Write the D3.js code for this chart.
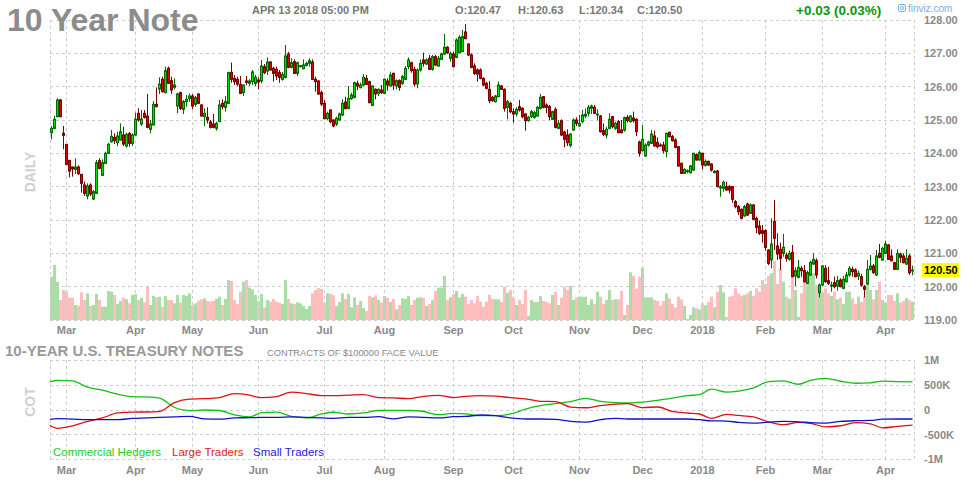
<!DOCTYPE html>
<html><head><meta charset="utf-8">
<script src="https://cdn.jsdelivr.net/npm/d3@7"></script>
<style>
body{margin:0;background:#fff}
svg{display:block}
text{font-family:"Liberation Sans",Arial,Helvetica,sans-serif}
</style>
</head><body>
<svg id="chart" width="964" height="480"></svg>
<script>
// ---------- categories ----------
const firstDay = "2017-02-22", lastDay = "2018-04-13";
const holidays = ["2017-04-14","2017-05-29","2017-07-04","2017-09-04","2017-11-23","2017-12-25","2018-01-01","2018-01-15","2018-02-19","2018-03-30"];
const monthTickDates = ["2017-03-01","2017-04-03","2017-05-01","2017-06-01","2017-07-03","2017-08-01","2017-09-01","2017-10-02","2017-11-01","2017-12-01","2018-01-02","2018-02-01","2018-03-01","2018-04-02"];
const monthTickLabels = ["Mar","Apr","May","Jun","Jul","Aug","Sep","Oct","Nov","Dec","2018","Feb","Mar","Apr"];
const priceTicks = [119,120,121,122,123,124,125,126,127,128];
const cotTicks = [1000000,500000,0,-500000,-1000000];
const cotTickLabels = ["1M","500K","0","-500K","-1M"];
const quoteTime = "APR 13 2018 05:00 PM";
const dayChange = 0.03, dayChangePct = 0.03;

// ---------- daily OHLC ----------
const open = [124.62,124.75,125.1,125.6,124.6,124.27,123.79,123.59,123.52,123.59,
123.37,123.05,122.72,123.05,122.63,122.8,123.78,123.34,123.7,124.0,
124.35,124.48,124.32,124.4,124.55,124.22,124.59,124.3,124.55,125.2,
124.88,125.2,125.12,124.72,124.85,125.47,125.93,126.22,125.82,126.55,
126.18,125.98,125.42,125.82,125.32,125.55,125.64,125.72,125.47,125.78,
125.45,125.1,125.08,124.94,124.88,124.75,124.95,125.5,125.38,125.5,
126.43,126.25,126.22,126.07,125.82,126.17,126.1,126.15,126.1,126.2,
126.17,126.6,126.47,126.74,126.55,126.52,126.42,126.22,126.28,126.98,
126.58,126.75,126.4,126.6,126.54,126.64,126.7,126.74,126.22,126.17,
125.82,125.5,125.04,125.3,125.0,124.88,125.0,125.15,125.54,125.35,
125.64,125.68,126.1,125.97,126.05,126.25,126.15,125.44,125.92,125.8,
125.9,125.8,126.17,126.02,126.4,126.02,126.18,126.1,126.22,126.6,
126.72,126.52,126.08,126.5,126.8,126.68,126.85,126.52,126.9,126.62,
126.82,126.98,127.18,126.85,126.98,126.88,127.02,127.05,127.64,127.28,
126.95,126.62,126.5,126.5,126.25,126.1,125.92,125.68,125.55,125.7,
126.02,125.92,125.38,125.5,125.25,125.18,125.4,125.35,125.18,124.98,
125.1,125.08,125.12,125.35,125.7,125.45,125.4,125.02,125.32,124.75,
124.98,124.64,124.55,124.24,124.7,125.0,124.82,124.95,125.12,125.2,
125.35,125.38,125.15,125.12,124.68,124.55,124.75,125.1,124.75,124.95,
124.7,124.7,125.08,124.95,125.06,125.02,124.34,124.08,123.92,124.25,
124.3,124.52,124.33,124.25,124.25,124.05,124.63,124.5,124.4,124.2,
123.7,123.4,123.45,123.42,123.5,123.96,123.8,124.0,123.64,123.76,
123.68,123.42,123.47,122.96,122.95,123.0,123.0,123.0,122.55,122.4,
122.32,122.12,122.48,122.2,122.45,122.05,121.82,121.68,121.68,121.1,
120.8,121.96,121.22,121.12,121.0,120.95,120.82,121.03,120.32,120.28,
120.55,120.48,120.1,120.35,120.68,120.78,119.82,120.05,120.55,120.18,
120.02,120.12,120.02,120.2,119.95,120.15,120.35,120.52,120.5,120.32,
120.3,120.0,120.08,120.52,120.62,120.35,121.0,120.8,121.0,121.25,
120.92,120.72,120.52,120.98,120.92,120.68,120.92,120.47];

const high = [124.82,125.13,125.65,125.63,124.82,124.27,123.79,123.6,123.85,123.64,
123.37,123.15,123.1,123.1,122.9,123.8,123.85,123.82,124.05,124.32,
124.7,124.6,124.65,124.9,124.8,124.62,124.64,124.6,125.22,125.35,
125.3,125.3,125.78,125.0,125.57,125.98,126.28,126.3,126.6,126.6,
126.3,126.25,125.82,125.85,125.6,125.75,125.8,125.78,125.72,125.8,
125.48,125.35,125.38,125.0,125.18,124.95,125.6,125.62,125.72,126.45,
126.72,126.35,126.3,126.32,126.05,126.32,126.22,126.5,126.35,126.28,
126.8,126.68,126.88,126.76,126.6,126.6,126.5,126.44,127.25,127.04,
126.85,126.82,126.75,126.65,126.82,126.75,126.85,126.82,126.3,126.2,
125.88,125.6,125.25,125.32,125.02,125.1,125.22,125.62,125.7,126.02,
125.82,126.15,126.18,126.12,126.38,126.35,126.18,126.04,125.95,125.95,
126.05,126.25,126.25,126.45,126.42,126.22,126.22,126.35,126.62,126.88,
126.75,126.6,126.55,126.82,127.02,126.85,126.95,126.95,126.95,126.92,
127.02,127.58,127.22,127.05,127.05,127.45,127.55,127.7,127.88,127.3,
127.0,126.7,126.55,126.55,126.28,126.15,126.17,125.72,125.75,126.15,
126.05,125.95,125.6,125.55,125.35,125.38,125.6,125.38,125.2,125.12,
125.3,125.28,125.42,125.78,125.72,125.5,125.45,125.28,125.38,125.0,
125.02,124.68,124.72,124.6,125.05,125.08,125.15,125.3,125.35,125.45,
125.46,125.45,125.32,125.15,124.9,124.8,125.2,125.12,124.95,125.0,
125.0,125.1,125.15,125.15,125.25,125.05,124.38,124.85,124.3,124.38,
124.7,124.68,124.48,124.3,124.35,124.62,124.65,124.55,124.45,124.22,
123.72,123.55,123.52,123.65,124.02,124.0,124.08,124.02,123.82,123.78,
123.7,123.5,123.5,123.05,123.18,123.15,123.05,123.02,122.6,122.45,
122.35,122.45,122.52,122.5,122.48,122.1,121.98,121.85,121.72,121.12,
122.05,122.6,121.6,121.32,121.58,121.02,121.08,121.25,120.58,120.8,
120.62,120.65,120.48,120.78,121.0,120.85,120.1,120.65,120.65,120.6,
120.15,120.3,120.32,120.25,120.32,120.45,120.62,120.6,120.55,120.48,
120.38,120.05,120.8,120.95,120.68,121.1,121.28,121.2,121.38,121.28,
121.12,120.75,121.12,121.02,121.0,121.12,120.98,120.63];

const low = [124.42,124.72,125.08,125.08,124.12,123.65,123.28,123.3,123.38,123.35,
122.82,122.72,122.62,122.72,122.6,122.8,123.52,123.33,123.68,123.98,
124.32,124.28,124.22,124.38,124.22,124.17,124.2,124.22,124.53,124.95,
124.82,125.04,124.75,124.6,124.84,125.38,125.78,125.82,125.8,126.08,
125.78,125.92,125.2,125.3,125.18,125.4,125.55,125.32,125.4,125.48,
125.1,124.82,124.9,124.75,124.75,124.68,124.94,125.32,125.25,125.48,
126.12,126.05,126.02,125.78,125.72,126.05,126.02,126.05,126.02,125.92,
126.1,126.38,126.35,126.48,126.15,126.2,126.12,126.18,126.25,126.55,
126.55,126.38,126.32,126.58,126.52,126.6,126.6,126.2,125.85,125.75,
125.42,125.02,125.0,124.9,124.78,124.82,124.98,125.12,125.32,125.32,
125.6,125.65,125.9,125.95,126.02,126.05,125.5,125.42,125.62,125.72,
125.78,125.78,125.88,126.0,125.9,125.92,125.88,126.05,126.2,126.52,
126.42,126.0,125.95,126.45,126.6,126.65,126.5,126.48,126.62,126.6,
126.8,126.95,126.98,126.75,126.58,126.85,127.0,127.05,127.42,126.92,
126.55,126.35,126.15,126.22,126.02,125.92,125.5,125.55,125.52,125.68,
125.9,125.25,125.02,125.2,124.92,125.1,125.25,125.05,124.68,124.95,
125.05,125.04,125.1,125.32,125.35,125.2,125.0,125.0,124.75,124.72,
124.52,124.18,124.22,124.18,124.68,124.82,124.8,124.9,125.05,125.1,
125.18,125.18,125.0,124.62,124.52,124.45,124.72,124.75,124.7,124.6,
124.6,124.65,124.92,124.92,124.92,124.52,123.9,124.05,123.9,124.2,
124.28,124.2,124.15,124.2,124.0,123.88,124.48,124.35,124.15,123.6,
123.38,123.38,123.4,123.4,123.48,123.78,123.78,123.52,123.6,123.62,
123.45,123.4,122.98,122.7,122.85,122.88,122.8,122.52,122.35,122.15,
122.02,122.1,122.12,122.18,122.0,121.6,121.55,121.32,121.08,120.65,
120.55,121.1,120.8,120.5,120.9,120.75,120.78,120.28,120.02,120.25,
120.3,120.12,120.08,120.32,120.65,120.25,119.68,120.02,120.12,120.05,
119.85,119.95,119.88,119.98,119.92,120.12,120.3,120.3,120.28,120.2,
120.0,119.68,120.05,120.48,120.38,120.32,120.85,120.78,120.98,120.8,
120.75,120.5,120.5,120.72,120.7,120.65,120.35,120.34];

const close = [124.75,125.02,125.6,125.1,124.54,123.67,123.47,123.53,123.59,123.39,
123.1,122.8,123.02,122.78,122.85,123.72,123.55,123.72,124.0,124.27,
124.51,124.38,124.52,124.65,124.28,124.57,124.3,124.55,125.02,125.0,
125.03,125.08,124.78,124.88,125.47,125.4,126.08,125.85,126.48,126.1,
125.9,126.05,125.78,125.35,125.55,125.62,125.72,125.42,125.67,125.5,
125.12,125.2,125.0,124.78,124.78,124.9,125.45,125.4,125.55,126.42,
126.22,126.15,126.08,125.8,126.05,126.13,126.17,126.44,126.28,126.14,
126.62,126.42,126.74,126.5,126.4,126.32,126.28,126.37,126.92,126.58,
126.72,126.4,126.72,126.63,126.65,126.7,126.78,126.22,126.15,125.78,
125.48,125.04,125.2,124.95,124.82,125.05,125.18,125.5,125.34,125.65,
125.75,126.12,126.02,126.05,126.28,126.07,125.52,126.02,125.78,125.92,
125.82,126.22,126.05,126.35,126.05,126.18,125.98,126.3,126.55,126.8,
126.48,126.08,126.5,126.7,126.7,126.8,126.52,126.9,126.65,126.85,
126.98,127.18,127.02,127.0,126.6,127.4,127.48,127.5,127.44,126.95,
126.58,126.4,126.38,126.25,126.05,125.95,125.58,125.58,125.72,126.05,
125.92,125.35,125.55,125.25,125.18,125.32,125.3,125.1,124.98,125.08,
125.25,125.22,125.38,125.68,125.38,125.38,125.1,125.25,124.78,124.9,
124.55,124.42,124.32,124.58,125.0,124.9,124.9,125.15,125.17,125.38,
125.42,125.2,125.18,124.65,124.57,124.72,125.02,124.8,124.9,124.62,
124.62,125.07,124.98,125.12,124.98,124.65,124.0,124.42,124.25,124.34,
124.58,124.22,124.2,124.23,124.08,124.6,124.5,124.38,124.18,123.62,
123.4,123.52,123.48,123.62,124.0,123.8,124.02,123.65,123.76,123.65,
123.5,123.46,123.0,123.0,123.13,122.9,122.9,122.62,122.4,122.25,
122.05,122.4,122.15,122.45,122.02,121.78,121.6,121.6,121.18,120.7,
121.28,121.45,120.98,120.85,121.18,120.85,121.0,120.3,120.48,120.58,
120.48,120.15,120.42,120.73,120.82,120.35,120.05,120.62,120.15,120.1,
120.05,120.0,120.18,120.0,120.22,120.35,120.55,120.45,120.3,120.4,
120.05,119.92,120.52,120.62,120.42,120.92,120.88,121.15,121.28,120.82,
120.78,120.52,121.0,120.88,120.72,120.85,120.42,120.5];

// daily volume, thousands of contracts
const volume = [1300,1650,1150,600,900,850,670,670,450,430,
830,600,800,420,450,780,600,400,400,870,
850,750,480,570,670,620,500,750,780,600,
670,530,1020,450,720,680,700,400,720,600,
600,500,750,530,750,720,800,450,500,580,
620,650,570,550,570,630,700,
450,630,1200,1170,600,480,850,1150,1200,970,
920,750,570,780,380,600,550,630,550,520,
480,1200,630,500,480,530,500,420,330,420,
800,900,960,930,520,800,780,740,420,540,
800,630,780,380,680,450,570,360,270,720,
680,740,600,520,720,670,540,630,
320,450,650,630,720,450,600,670,680,660,
420,480,600,870,970,970,1320,600,680,780,
870,680,780,700,480,600,500,720,550,400,
550,750,640,620,620,540,1000,820,900,670,
450,600,480,900,130,600,540,540,720,570,
540,500,750,840,450,670,1000,900,
1020,600,680,700,700,700,450,620,480,850,
700,480,600,900,600,620,620,870,150,450,
1430,1320,940,1300,1570,680,680,680,600,570,
420,570,800,650,480,380,700,620,420,30,
150,380,350,320,500,440,540,700,380,850,
1050,830,100,700,720,950,800,
720,750,800,870,720,950,850,1200,1080,1320,
1400,1770,1080,1520,1150,700,640,1300,900,100,
800,1200,1220,1350,1400,1050,900,820,950,800,
720,850,620,670,480,850,850,650,480,700,
540,700,1050,900,620,900,1150,600,520,750,
750,570,800,520,570,660,600,550];

// ---------- weekly COT (net positions, thousands of contracts) ----------
const cotDates = ["2017-02-17","2017-02-24","2017-03-03","2017-03-10","2017-03-17","2017-03-24","2017-03-31","2017-04-07","2017-04-14","2017-04-21",
"2017-04-28","2017-05-05","2017-05-12","2017-05-19","2017-05-26","2017-06-02","2017-06-09","2017-06-16","2017-06-23","2017-06-30",
"2017-07-07","2017-07-14","2017-07-21","2017-07-28","2017-08-04","2017-08-11","2017-08-18","2017-08-25","2017-09-01","2017-09-08",
"2017-09-15","2017-09-22","2017-09-29","2017-10-06","2017-10-13","2017-10-20","2017-10-27","2017-11-03","2017-11-10","2017-11-17",
"2017-11-24","2017-12-01","2017-12-08","2017-12-15","2017-12-22","2017-12-29","2018-01-05","2018-01-12","2018-01-19","2018-01-26",
"2018-02-02","2018-02-09","2018-02-16","2018-02-23","2018-03-02","2018-03-09","2018-03-16","2018-03-23","2018-03-30","2018-04-06","2018-04-13"];
const commercialHedgers = [560,600,590,460,400,320,270,264,240,50,
-14,0,-10,-100,-140,-55,-41,-130,-160,-80,
-45,-81,-60,-10,-7,-10,-30,-95,-70,-80,
-115,-115,-80,20,88,130,170,235,175,148,
142,160,195,240,290,311,420,360,380,446,
575,590,520,600,640,581,540,548,585,575,568];
const largeTraders = [-297,-370,-320,-230,-160,-60,-41,-40,-27,150,
220,228,250,330,300,250,270,360,331,291,
291,300,311,250,243,230,277,297,250,277,
291,280,250,225,176,170,60,45,88,120,
130,50,61,-30,-61,-81,-170,-90,-110,-140,
-240,-297,-250,-270,-340,-318,-255,-280,-360,-331,-304];
const smallTraders = [-196,-175,-185,-196,-196,-196,-169,-160,-149,-140,
-128,-180,-185,-160,-155,-150,-150,-140,-150,-160,
-169,-150,-150,-135,-180,-140,-150,-160,-135,-130,
-101,-115,-160,-182,-182,-190,-230,-243,-196,-170,
-182,-182,-182,-182,-182,-196,-220,-223,-250,-264,
-245,-230,-240,-255,-264,-230,-216,-210,-185,-182,-182];

// ---------- build ----------
const parse = d3.utcParse("%Y-%m-%d"), fmt = d3.utcFormat("%Y-%m-%d");
const hol = new Set(holidays);
const days = d3.utcDay.range(parse(firstDay), d3.utcDay.offset(parse(lastDay), 1))
  .filter(d => d.getUTCDay() % 6 !== 0 && !hol.has(fmt(d))).map(fmt);
const N = Math.min(days.length, open.length, high.length, low.length, close.length, volume.length);
const candles = d3.range(N).map(i => ({i, date: days[i], o: open[i], h: high[i], l: low[i], c: close[i], v: volume[i]}));

function idxOf(s) {
  const k = days.indexOf(s);
  return k >= 0 ? k : d3.bisectLeft(days, s) - 1;
}

const L = 50, R = 914;
const xb = d3.scaleBand().domain(d3.range(days.length)).range([L, R]).paddingInner(0).paddingOuter(0);
const bw = xb.bandwidth();
const xi = d3.scaleLinear().domain([-0.5, days.length - 0.5]).range([L, R]);
const y = d3.scaleLinear().domain([119, 128]).range([320, 20]);
const yv = d3.scaleLinear().domain([0, 9000]).range([320, 20]);
const yc = d3.scaleLinear().domain([-1000000, 1000000]).range([459.5, 360.5]);

const svg = d3.select("#chart");
const GRID = "#cdcdcd";
const LBL = "#8a8a8a";
const crisp = v => Math.round(v - 0.5) + 0.5;

// volume
svg.append("g").selectAll("rect").data(candles).join("rect")
  .attr("x", d => xb(d.i)).attr("width", bw)
  .attr("y", d => yv(d.v)).attr("height", d => 320 - yv(d.v))
  .attr("fill", d => d.c >= d.o ? "#aadea6" : "#ffbdbd");

// price grid
const grid = svg.append("g").attr("stroke", GRID).attr("stroke-dasharray", "3,3").attr("stroke-width", 1).attr("fill", "none");
priceTicks.forEach(p => grid.append("line").attr("x1", L).attr("x2", R).attr("y1", crisp(y(p))).attr("y2", crisp(y(p))));
const monthIdx = monthTickDates.map(idxOf);
[L, ...monthIdx.map(i => xi(i)), R].forEach(x => grid.append("line").attr("x1", crisp(x)).attr("x2", crisp(x)).attr("y1", 20).attr("y2", 320));

// candles
const cg = svg.append("g");
const cs = cg.selectAll("g").data(candles).join("g");
cs.append("line")
  .attr("x1", d => xb(d.i) + bw / 2).attr("x2", d => xb(d.i) + bw / 2)
  .attr("y1", d => y(d.h)).attr("y2", d => y(d.l))
  .attr("stroke", d => d.c >= d.o ? "#006a00" : "#7a0000").attr("stroke-width", 1);
cs.append("rect")
  .attr("x", d => xb(d.i) + 0.5).attr("width", bw - 1)
  .attr("y", d => y(Math.max(d.o, d.c)))
  .attr("height", d => Math.max(1, Math.abs(y(d.o) - y(d.c))))
  .attr("fill", d => d.c >= d.o ? "#00e000" : "#e00000")
  .attr("stroke", d => d.c >= d.o ? "#006a00" : "#7a0000").attr("stroke-width", 1);

// price axis labels
const yAxis = d3.axisRight(y).tickValues(priceTicks).tickFormat(d3.format(".2f")).tickSize(0).tickPadding(10);
const ya = svg.append("g").attr("transform", `translate(${R},0)`).call(yAxis);
ya.select(".domain").remove();
ya.selectAll("text").attr("fill", LBL).attr("font-size", "11px").attr("font-weight", "bold")
  .attr("font-family", '"Liberation Sans",Arial,sans-serif');

// last price marker
const last = candles[N - 1];
svg.append("rect").attr("x", 922).attr("y", y(last.c) - 7).attr("width", 37).attr("height", 14).attr("fill", "#ffff00");
svg.append("text").attr("x", 924).attr("y", y(last.c)).attr("dy", "0.35em").attr("font-size", "11px").attr("font-weight", "bold")
  .attr("fill", "#000").text(last.c.toFixed(2));

// month labels (price chart and COT chart)
function monthLabels(baseline) {
  const g = svg.append("g");
  monthIdx.forEach((i, k) => g.append("text").attr("x", xi(i)).attr("y", baseline).attr("text-anchor", "middle")
    .attr("font-size", "11px").attr("font-weight", "bold").attr("fill", LBL).text(monthTickLabels[k]));
}
monthLabels(334);
monthLabels(474);

// header
svg.append("text").attr("x", 7).attr("y", 31).attr("font-size", "32px").attr("font-weight", "bold").attr("fill", "#8c8c8c").text("10 Year Note");
const hdr = [[252, quoteTime], [455, "O:" + open[N-1].toFixed(2)], [518, "H:" + high[N-1].toFixed(2)], [579, "L:" + low[N-1].toFixed(2)], [637, "C:" + close[N-1].toFixed(2)]];
hdr.forEach(([x, t]) => svg.append("text").attr("x", x).attr("y", 13.5).attr("font-size", "11px").attr("font-weight", "bold").attr("fill", "#777").text(t));
svg.append("text").attr("x", 796).attr("y", 14.5).attr("font-size", "13.5px").attr("font-weight", "bold").attr("fill", "#0c960c")
  .text((dayChange >= 0 ? "+" : "") + dayChange.toFixed(2) + " (" + dayChangePct.toFixed(2) + "%)");
// finviz logo
svg.append("rect").attr("x", 898.5).attr("y", 4.5).attr("width", 7).attr("height", 7).attr("rx", 1.5).attr("fill", "none").attr("stroke", "#79b0e2");
svg.append("circle").attr("cx", 902).attr("cy", 8).attr("r", 1.6).attr("fill", "none").attr("stroke", "#79b0e2");
svg.append("text").attr("x", 908).attr("y", 11.5).attr("font-size", "10px").attr("fill", "#79b0e2").text("finviz.com");

// side captions
svg.append("text").attr("transform", "translate(35,172) rotate(-90)").attr("text-anchor", "middle").attr("font-size", "14px")
  .attr("font-weight", "bold").attr("fill", "#d0d0d0").text("DAILY");
svg.append("text").attr("transform", "translate(35,402) rotate(-90)").attr("text-anchor", "middle").attr("font-size", "14px")
  .attr("font-weight", "bold").attr("fill", "#d0d0d0").text("COT");

// COT titles
svg.append("text").attr("x", 5).attr("y", 356).attr("font-size", "15px").attr("font-weight", "bold").attr("fill", "#999").text("10-YEAR U.S. TREASURY NOTES");
svg.append("text").attr("x", 267).attr("y", 356).attr("font-size", "9.3px").attr("fill", "#888").text("CONTRACTS OF $100000 FACE VALUE");

// COT grid
const cgrid = svg.append("g").attr("stroke", GRID).attr("stroke-dasharray", "3,3").attr("stroke-width", 1).attr("fill", "none");
cotTicks.forEach(v => cgrid.append("line").attr("x1", L).attr("x2", R).attr("y1", crisp(yc(v))).attr("y2", crisp(yc(v))));
[L, ...monthIdx.map(i => xi(i)), R].forEach(x => cgrid.append("line").attr("x1", crisp(x)).attr("x2", crisp(x)).attr("y1", 360).attr("y2", 460));

// COT axis labels
cotTicks.forEach((v, k) => svg.append("text").attr("x", 924).attr("y", yc(v)).attr("dy", "0.35em").attr("font-size", "11px")
  .attr("font-weight", "bold").attr("fill", LBL).text(cotTickLabels[k]));

// COT lines
svg.append("clipPath").attr("id", "cotclip").append("rect").attr("x", L).attr("y", 355).attr("width", R - L).attr("height", 110);
const cotX = cotDates.map(idxOf).map(i => xi(i));
const line = d3.line().x((d, k) => cotX[k]).y(d => yc(d * 1000)).curve(d3.curveMonotoneX);
const series = [[commercialHedgers, "#11c011"], [largeTraders, "#dd1111"], [smallTraders, "#1111cc"]];
const lg = svg.append("g").attr("clip-path", "url(#cotclip)");
series.forEach(([vals, col]) => lg.append("path").datum(vals).attr("d", line).attr("fill", "none").attr("stroke", col).attr("stroke-width", 1.3));

// legend
const legend = [["Commercial Hedgers", "#22cc22", 53], ["Large Traders", "#dd2222", 172], ["Small Traders", "#2222dd", 253]];
legend.forEach(([t, c, x]) => svg.append("text").attr("x", x).attr("y", 456).attr("font-size", "11.5px").attr("fill", c).text(t));
</script>
</body></html>
